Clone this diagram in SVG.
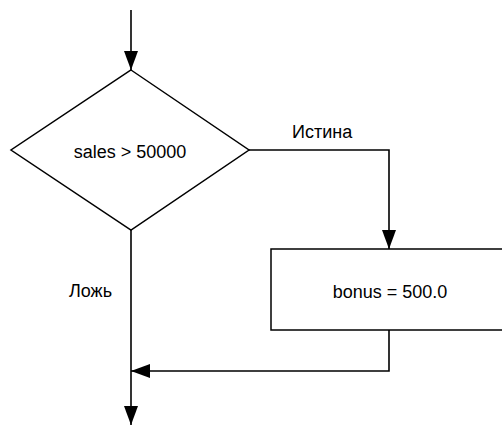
<svg xmlns="http://www.w3.org/2000/svg" width="502" height="425" viewBox="0 0 502 425">
<style>
.shape{fill:#fff;stroke:#000;stroke-width:1.5}
.line{fill:none;stroke:#000;stroke-width:1.6}
text{font-family:"Liberation Sans",Arial,sans-serif;font-size:18px;fill:#000}
.c{text-anchor:middle}
</style>
<defs>
<marker id="arr" markerUnits="userSpaceOnUse" markerWidth="19" markerHeight="14" refX="19" refY="7" orient="auto">
<path d="M0,0 L19,7 L0,14 z" fill="#000"/>
</marker>
</defs>
<rect width="502" height="425" fill="#fff"/>
<g id="connectors">
<line class="line" x1="131" y1="10" x2="131" y2="70" marker-end="url(#arr)"/>
<polyline class="line" points="249,150 389,150 389,249" marker-end="url(#arr)"/>
<polyline class="line" points="389,330 389,371 131,371" marker-end="url(#arr)"/>
<line class="line" x1="131" y1="230" x2="131" y2="425" marker-end="url(#arr)"/>
<text x="292" y="138">Истина</text>
<text x="69" y="297">Ложь</text>
</g>
<g id="decision">
<polygon class="shape" points="131,70 249,150 131,230 11,150"/>
<text class="c" x="130" y="158">sales &gt; 50000</text>
</g>
<g id="process">
<rect class="shape" x="271" y="249" width="240" height="81"/>
<text class="c" x="390" y="298">bonus = 500.0</text>
</g>
</svg>
